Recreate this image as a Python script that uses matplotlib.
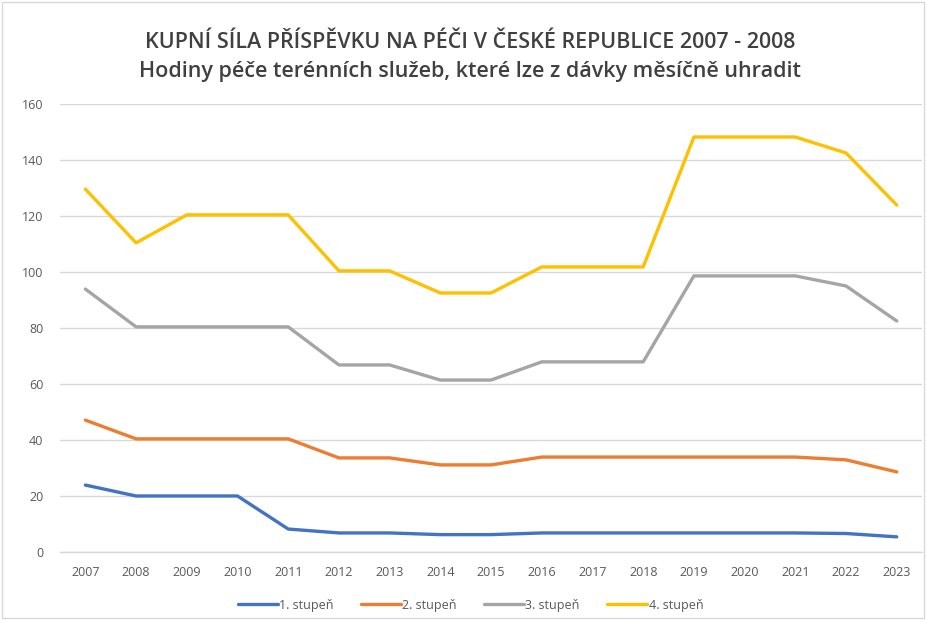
import matplotlib
matplotlib.use("Agg")
import matplotlib.pyplot as plt
from matplotlib.patches import Rectangle

years = [str(y) for y in range(2007, 2024)]
stupen1 = [23.9, 20.0, 20.0, 20.0, 8.2, 6.8, 6.8, 6.2, 6.2, 6.8, 6.8, 6.8, 6.8, 6.8, 6.8, 6.6, 5.4]
stupen2 = [47.1, 40.4, 40.4, 40.4, 40.4, 33.6, 33.6, 31.1, 31.1, 33.9, 33.9, 33.9, 33.9, 33.9, 33.9, 32.9, 28.6]
stupen3 = [93.9, 80.4, 80.4, 80.4, 80.4, 66.8, 66.8, 61.4, 61.4, 67.9, 67.9, 67.9, 98.6, 98.6, 98.6, 95.0, 82.5]
stupen4 = [129.6, 110.4, 120.4, 120.4, 120.4, 100.4, 100.4, 92.5, 92.5, 101.8, 101.8, 101.8, 148.2, 148.2, 148.2, 142.5, 123.9]
labels = ["1. stupeň", "2. stupeň", "3. stupeň", "4. stupeň"]
colors = ["#4472C4", "#ED7D31", "#A5A5A5", "#FFC000"]
yticks = [0, 20, 40, 60, 80, 100, 120, 140, 160]

plt.rcParams['font.family'] = ['Open Sans', 'DejaVu Sans']

fig = plt.figure(figsize=(9.26, 6.2), dpi=100)
ax = fig.add_axes([0.0648, 0.1097, 0.931, 0.7226])

x = list(range(len(years)))
for vals, lab, col in zip([stupen1, stupen2, stupen3, stupen4], labels, colors):
    ax.plot(x, vals, color=col, lw=2.4, label=lab, solid_capstyle='round', solid_joinstyle='round')

ax.set_xlim(-0.5, len(years) - 0.5)
ax.set_ylim(0, 160)
ax.set_yticks(yticks)
ax.set_xticks(x)
ax.set_xticklabels(years)
ax.grid(axis='y', color='#D9D9D9', lw=1)
ax.set_axisbelow(True)
for s in ['top', 'right', 'left']:
    ax.spines[s].set_visible(False)
ax.spines['bottom'].set_color('#D9D9D9')
ax.spines['bottom'].set_linewidth(1)
ax.tick_params(axis='both', length=0, colors='#595959', labelsize=9)
ax.tick_params(axis='x', pad=10)
ax.tick_params(axis='y', pad=12)

fig.text(0.508, 0.932, "KUPNÍ SÍLA PŘÍSPĚVKU NA PÉČI V ČESKÉ REPUBLICE 2007 - 2008",
         ha='center', va='center', fontsize=15.5, color='#404040', fontweight='semibold')
fig.text(0.508, 0.885, "Hodiny péče terénních služeb, které lze z dávky měsíčně uhradit",
         ha='center', va='center', fontsize=15.5, color='#404040', fontweight='semibold')

leg = fig.legend(loc='center', bbox_to_anchor=(0.508, 0.024), ncol=4, frameon=False,
                 fontsize=9, labelcolor='#595959', handlelength=3.2, columnspacing=2.2,
                 handletextpad=0.1)

fig.patches.append(Rectangle((0.002, 0.003), 0.996, 0.994, transform=fig.transFigure,
                             fill=False, edgecolor='#D9D9D9', lw=1))

fig.savefig("out.png", dpi=100)
